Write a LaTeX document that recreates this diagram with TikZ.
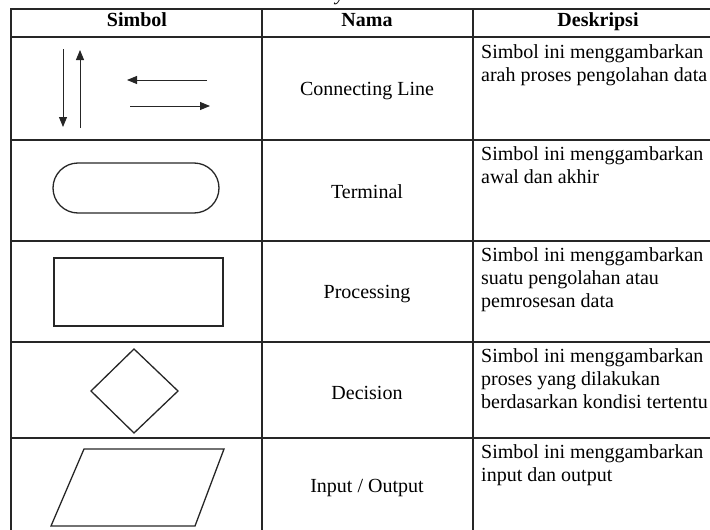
\documentclass[tikz,border=0pt]{standalone}
\usepackage{fontspec}
\setmainfont{Liberation Serif}
\usetikzlibrary{arrows.meta}
\begin{document}
\begin{tikzpicture}[x=1pt,y=-1pt,
  gridline/.style={line width=1.2pt,draw=black!85},
  shp/.style={line width=1.3pt,draw=black!85},
  arr/.style={line width=1pt,draw=black!85,-{Triangle[length=10pt,width=8pt]}},
  headtxt/.style={font=\fontsize{20}{23}\selectfont\bfseries,anchor=base},
  nmtxt/.style={font=\fontsize{20}{23}\selectfont,anchor=center},
  desctxt/.style={font=\fontsize{20}{23}\selectfont,anchor=north west,align=left,inner sep=0pt},
  captxt/.style={font=\fontsize{20}{23}\selectfont\itshape,anchor=base,inner sep=0pt}]
\useasboundingbox (0,0) rectangle (710,530);
% caption fragment cut off at top
\node[captxt] (cap) at (340,0) {y};
% table grid
\draw[gridline] (11,530) -- (11,9) -- (710,9);
\draw[gridline] (11,37) -- (710,37);
\draw[gridline] (11,140) -- (710,140);
\draw[gridline] (11,241) -- (710,241);
\draw[gridline] (11,342) -- (710,342);
\draw[gridline] (11,438) -- (710,438);
\draw[gridline] (262,9) -- (262,530);
\draw[gridline] (473,9) -- (473,530);
% header
\node[headtxt] (h1) at (137,27) {Simbol};
\node[headtxt] (h2) at (367,27) {Nama};
\node[headtxt] (h3) at (598,27) {Deskripsi};
% row 1: connecting lines
\coordinate (d1) at (63,49); \coordinate (d2) at (63,127);
\coordinate (u1) at (80,128); \coordinate (u2) at (80,50);
\coordinate (l1) at (207,80); \coordinate (l2) at (127,80);
\coordinate (r1) at (130,106); \coordinate (r2) at (210,106);
\draw[arr] (d1) -- (d2);
\draw[arr] (u1) -- (u2);
\draw[arr] (l1) -- (l2);
\draw[arr] (r1) -- (r2);
\node[nmtxt] (n1) at (367,91.5) {Connecting Line};
\node[desctxt] (t1) at (481,44) {Simbol ini menggambarkan\\arah proses pengolahan data};
% row 2: terminal
\draw[shp,rounded corners=25pt] (53,163) rectangle (219,213);
\node[nmtxt] (n2) at (367,192) {Terminal};
\node[desctxt] (t2) at (481,146) {Simbol ini menggambarkan\\awal dan akhir};
% row 3: processing
\draw[shp] (54,258) rectangle (223,326);
\node[nmtxt] (n3) at (367,294.5) {Processing};
\node[desctxt] (t3) at (481,247) {Simbol ini menggambarkan\\suatu pengolahan atau\\pemrosesan data};
% row 4: decision
\draw[shp] (134,349) -- (178,391) -- (134,433) -- (91,391) -- cycle;
\node[nmtxt] (n4) at (367,392.5) {Decision};
\node[desctxt] (t4) at (481,348) {Simbol ini menggambarkan\\proses yang dilakukan\\berdasarkan kondisi tertentu};
% row 5: input/output
\draw[shp] (84,449) -- (224,449) -- (195,526) -- (51,526) -- cycle;
\node[nmtxt] (n5) at (367,488.5) {Input / Output};
\node[desctxt] (t5) at (481,444) {Simbol ini menggambarkan\\input dan output};
\end{tikzpicture}
\end{document}
